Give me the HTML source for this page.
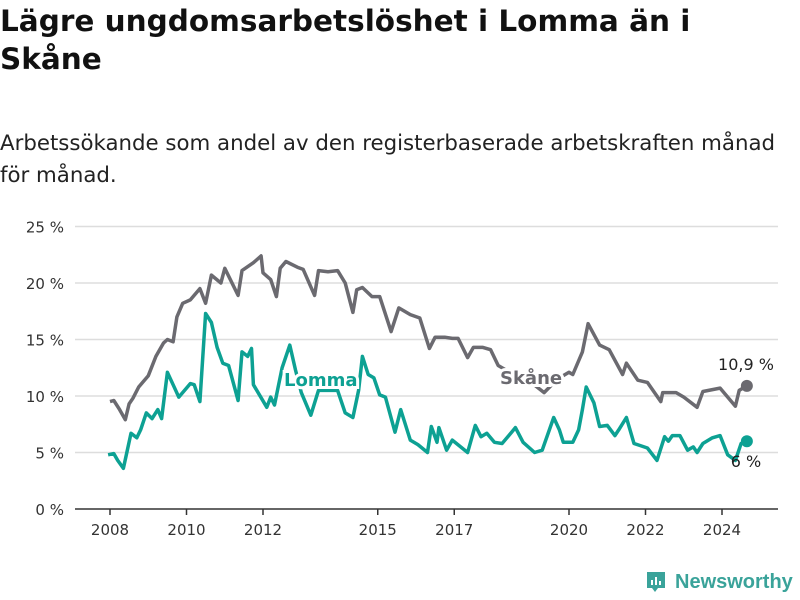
<!DOCTYPE html>
<html><head><meta charset="utf-8"><style>
body{margin:0;background:#fff;width:800px;height:600px;overflow:hidden;font-family:"DejaVu Sans","Liberation Sans",sans-serif}
h1{position:absolute;left:0;top:2px;margin:0;font-size:29.5px;line-height:38px;font-weight:bold;color:#111;white-space:nowrap}
p{position:absolute;left:0;top:128px;margin:0;font-size:21.3px;line-height:32px;color:#222;white-space:nowrap}
</style></head><body>
<h1>Lägre ungdomsarbetslöshet i Lomma än i<br>Skåne</h1>
<p>Arbetssökande som andel av den registerbaserade arbetskraften månad<br>för månad.</p>
<svg id="chart" width="800" height="600" style="position:absolute;left:0;top:0;font-family:'DejaVu Sans','Liberation Sans',sans-serif"></svg>
<div style="position:absolute;left:645px;top:570px;display:flex;align-items:center">
<svg width="22" height="24"><path d="M2 2h18v16h-7l-3 4-3-4H2z" fill="#3aa39a"/><rect x="6" y="10" width="2" height="5" fill="#fff"/><rect x="10" y="7" width="2" height="8" fill="#fff"/><rect x="14" y="11" width="2" height="4" fill="#fff"/></svg>
<span style="color:#3aa39a;font-family:'Liberation Sans',sans-serif;font-size:20px;font-weight:bold;margin-left:8px">Newsworthy</span></div>
<script>
const dates=[2008.0,2008.1,2008.25,2008.4,2008.5,2008.6,2008.75,2009.0,2009.2,2009.4,2009.5,2009.65,2009.75,2009.9,2010.1,2010.35,2010.5,2010.65,2010.9,2011.0,2011.35,2011.45,2011.75,2011.95,2012.0,2012.2,2012.35,2012.45,2012.6,2012.9,2013.05,2013.35,2013.45,2013.7,2013.95,2014.15,2014.35,2014.45,2014.6,2014.85,2015.05,2015.35,2015.55,2015.85,2016.1,2016.35,2016.5,2016.75,2016.95,2017.1,2017.35,2017.5,2017.75,2017.95,2018.15,2018.5,2018.9,2019.35,2019.7,2020.0,2020.1,2020.35,2020.5,2020.8,2021.05,2021.4,2021.5,2021.8,2022.05,2022.4,2022.45,2022.8,2023.0,2023.35,2023.5,2023.95,2024.1,2024.35,2024.45,2024.65];
const skane=[9.5,9.6,8.8,7.9,9.3,9.8,10.8,11.8,13.5,14.7,15.0,14.8,17.0,18.2,18.5,19.5,18.2,20.7,20.0,21.3,18.9,21.1,21.8,22.4,20.9,20.3,18.8,21.3,21.9,21.4,21.2,18.9,21.1,21.0,21.1,20.0,17.4,19.4,19.6,18.8,18.8,15.7,17.8,17.2,16.9,14.2,15.2,15.2,15.1,15.1,13.4,14.3,14.3,14.1,12.7,12.0,11.5,10.3,11.5,12.1,11.9,13.9,16.4,14.5,14.1,11.9,12.9,11.4,11.2,9.5,10.3,10.3,9.9,9.0,10.4,10.7,10.1,9.1,10.5,10.9];
const ldates=[2007.95,2008.1,2008.2,2008.35,2008.55,2008.7,2008.8,2008.95,2009.1,2009.25,2009.35,2009.5,2009.65,2009.8,2010.1,2010.2,2010.35,2010.5,2010.65,2010.8,2010.95,2011.1,2011.35,2011.45,2011.6,2011.7,2011.75,2012.1,2012.2,2012.3,2012.5,2012.7,2012.85,2013.0,2013.25,2013.45,2013.7,2013.95,2014.15,2014.35,2014.5,2014.6,2014.75,2014.9,2015.05,2015.2,2015.45,2015.6,2015.85,2016.05,2016.3,2016.4,2016.55,2016.6,2016.8,2016.95,2017.35,2017.55,2017.7,2017.85,2018.05,2018.25,2018.5,2018.6,2018.8,2019.1,2019.3,2019.6,2019.75,2019.85,2020.1,2020.25,2020.35,2020.45,2020.65,2020.8,2021.0,2021.2,2021.3,2021.5,2021.7,2022.05,2022.3,2022.5,2022.6,2022.7,2022.9,2023.1,2023.25,2023.35,2023.5,2023.75,2023.95,2024.15,2024.35,2024.5,2024.65];
const lomma=[4.8,4.9,4.3,3.6,6.7,6.3,7.0,8.5,8.0,8.8,8.0,12.1,11.0,9.9,11.1,11.0,9.5,17.3,16.5,14.3,12.9,12.7,9.6,13.9,13.5,14.2,11.0,9.0,9.9,9.2,12.5,14.5,12.3,10.3,8.3,10.5,10.5,10.5,8.5,8.1,10.5,13.5,11.9,11.6,10.1,9.9,6.8,8.8,6.1,5.7,5.0,7.3,5.9,7.2,5.2,6.1,5.0,7.4,6.4,6.7,5.9,5.8,6.8,7.2,5.9,5.0,5.2,8.1,7.0,5.9,5.9,7.0,8.8,10.8,9.4,7.3,7.4,6.5,7.0,8.1,5.8,5.4,4.3,6.4,6.0,6.5,6.5,5.2,5.5,5.0,5.8,6.3,6.5,4.8,4.3,5.8,6.0];
const yTicks=[0,5,10,15,20,25];
const xTicks=[2008,2010,2012,2015,2017,2020,2022,2024];
const ns="http://www.w3.org/2000/svg",svg=document.getElementById('chart');
const X=t=>110+(t-2008)*38.25, Y=v=>509-v*11.3;
function mk(tag,a,txt){const e=document.createElementNS(ns,tag);for(const k in a)e.setAttribute(k,a[k]);if(txt!=null)e.textContent=txt;svg.appendChild(e);return e;}
yTicks.forEach(v=>{
 if(v>0){const g=mk('line',{x1:75,x2:778,y1:Y(v),y2:Y(v),stroke:'#ddd','stroke-width':1.5});
 
 }
 const t=mk('text',{x:64,y:Y(v)+6,'text-anchor':'end','font-size':15,fill:'#333'},v+' %');
 
 
});
const ax=mk('line',{x1:75,x2:778,y1:509,y2:509,stroke:'#333','stroke-width':1.5});


xTicks.forEach(y=>{
 const l=mk('line',{x1:X(y),x2:X(y),y1:509,y2:515,stroke:'#333','stroke-width':1.5});
 
 
 const t=mk('text',{x:X(y),y:535,'text-anchor':'middle','font-size':15,fill:'#333'},y);
 
 
});
function line(ds,vs,col,name){
 const p=mk('path',{d:ds.map((d,i)=>(i?'L':'M')+X(d).toFixed(1)+','+Y(vs[i]).toFixed(1)).join(''),fill:'none',stroke:col,'stroke-width':3.5,'stroke-linejoin':'round'});
 
 
 const c=mk('circle',{cx:X(ds[ds.length-1]),cy:Y(vs[vs.length-1]),r:6,fill:col});
 
 
}
line(dates,skane,'#6b6a70','skane');
line(ldates,lomma,'#0da193','lomma');
const l1=mk('text',{x:284,y:386,'font-size':18,'font-weight':'bold',fill:'#0da193',stroke:'#fff','stroke-width':6,'paint-order':'stroke'},'Lomma');


const l2=mk('text',{x:500,y:384,'font-size':18,'font-weight':'bold',fill:'#6b6a70',stroke:'#fff','stroke-width':6,'paint-order':'stroke'},'Skåne');


const v1=mk('text',{x:746,y:370,'text-anchor':'middle','font-size':16,fill:'#222'},'10,9 %');


const v2=mk('text',{x:746,y:467,'text-anchor':'middle','font-size':16,fill:'#222'},'6 %');


</script>
</body></html>
